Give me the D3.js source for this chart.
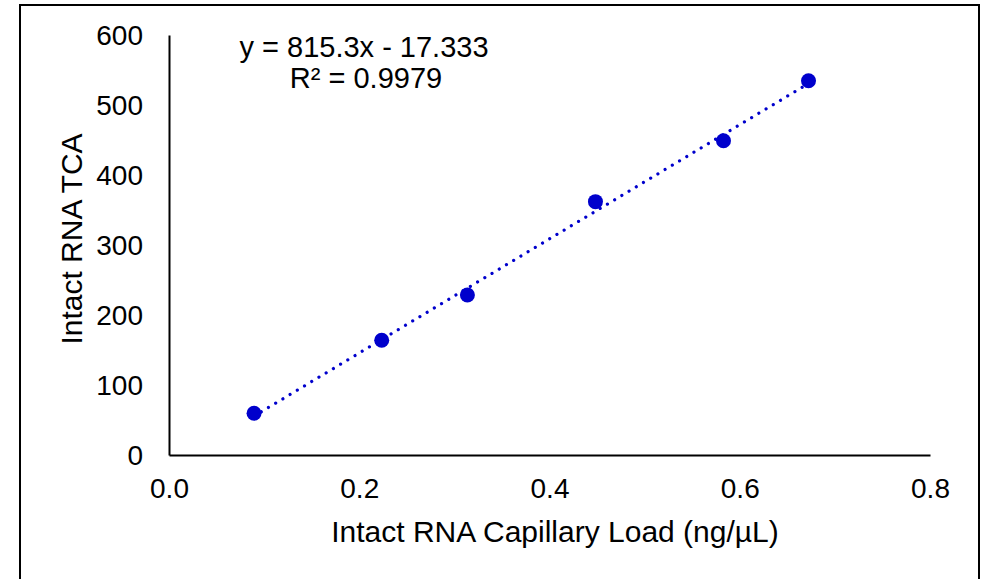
<!DOCTYPE html>
<html>
<head>
<meta charset="utf-8">
<script src="https://cdn.jsdelivr.net/npm/d3@7"></script>
<style>
  html, body { margin: 0; padding: 0; background: #fff; }
  svg text { font-family: "Liberation Sans", Arial, sans-serif; fill: #000; }
</style>
</head>
<body>
<svg id="chart" width="982" height="579"></svg>
<script>
// Capillary load (ng/µL) vs. intact RNA TCA
const loads = [0.0894, 0.2236, 0.3137, 0.4483, 0.5829, 0.6723];
const tca = [59.6, 164, 228.6, 361.9, 449, 534.7];
const xTicks = [0.0, 0.2, 0.4, 0.6, 0.8];
const yTicks = [0, 100, 200, 300, 400, 500, 600];
const slope = 815.3;
const intercept = -17.333;
const rSquared = "0.9979";
const xTitle = "Intact RNA Capillary Load (ng/\u00B5L)";
const yTitle = "Intact RNA TCA";

const svg = d3.select("#chart");
const blue = "#0000CC";
const tickFont = 28, titleFont = 30, eqFont = 29;

// chart frame
svg.append("rect")
  .attr("x", 20).attr("y", 5)
  .attr("width", 959).attr("height", 580)
  .attr("fill", "none").attr("stroke", "#000").attr("stroke-width", 2);

const x = d3.scaleLinear().domain([0, 0.8]).range([169, 930]);
const y = d3.scaleLinear().domain([0, 600]).range([455, 35]);

// axes: lines only, no tick marks
const xAxis = svg.append("g").attr("transform", `translate(0,${y(0)})`)
  .call(d3.axisBottom(x).tickValues(xTicks).tickFormat(d3.format(".1f")).tickSize(0));
const yAxis = svg.append("g").attr("transform", `translate(${x(0)},0)`)
  .call(d3.axisLeft(y).tickValues(yTicks).tickFormat(d3.format("d")).tickSize(0).tickPadding(26));

[xAxis, yAxis].forEach(g => {
  g.select(".domain").attr("stroke", "#000").attr("stroke-width", 2);
  g.selectAll("text").attr("font-size", tickFont)
    .attr("font-family", "Liberation Sans, Arial, sans-serif").attr("fill", "#000");
});
xAxis.selectAll("text").attr("y", 43).attr("dy", 0);
yAxis.selectAll("text").attr("dy", "0.35em");

// linear trendline across the data range
const xMin = d3.min(loads), xMax = d3.max(loads);
svg.append("line")
  .attr("x1", x(xMin)).attr("y1", y(slope * xMin + intercept))
  .attr("x2", x(xMax)).attr("y2", y(slope * xMax + intercept))
  .attr("stroke", blue).attr("stroke-width", 3.2)
  .attr("stroke-linecap", "round")
  .attr("stroke-dasharray", "0.01 8.4");

// data points
svg.append("g").selectAll("circle")
  .data(loads.map((v, i) => [v, tca[i]]))
  .join("circle")
  .attr("cx", d => x(d[0])).attr("cy", d => y(d[1]))
  .attr("r", 7.5).attr("fill", blue);

// trendline equation
const eq = svg.append("text").attr("font-size", eqFont).attr("text-anchor", "middle");
eq.append("tspan").attr("x", 364).attr("y", 57)
  .text(`y = ${slope}x - ${Math.abs(intercept)}`);
eq.append("tspan").attr("x", 366).attr("y", 88)
  .text(`R\u00B2 = ${rSquared}`);

// axis titles
svg.append("text").attr("font-size", titleFont).attr("text-anchor", "middle")
  .attr("x", 555).attr("y", 542).text(xTitle);
svg.append("text").attr("font-size", titleFont).attr("text-anchor", "middle")
  .attr("transform", "translate(82,239) rotate(-90)").text(yTitle);
</script>
</body>
</html>
